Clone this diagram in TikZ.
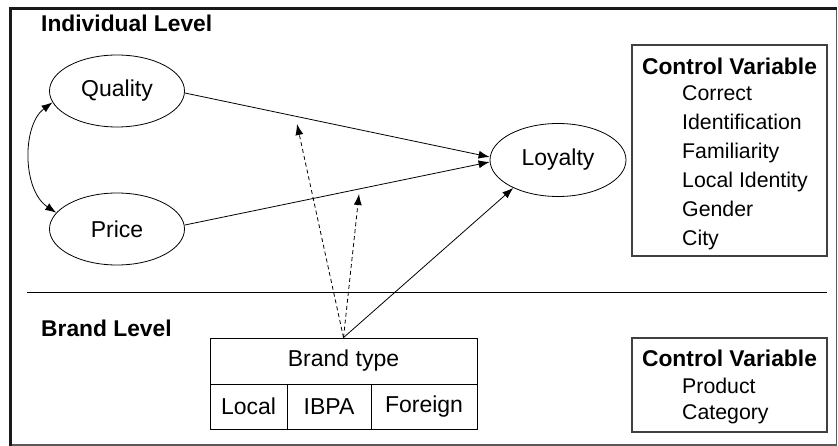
\documentclass[tikz,border=0pt]{standalone}
\usepackage{fontspec}
\setmainfont{Liberation Sans}
\usetikzlibrary{arrows.meta,shapes.geometric}
\begin{document}
\begin{tikzpicture}[x=1pt,y=-1pt,
  lbl/.style={font=\fontsize{23}{27}\selectfont},
  hdr/.style={font=\fontsize{22.8}{27}\selectfont\bfseries, anchor=base west, inner sep=0pt},
  item/.style={font=\fontsize{21.3}{25}\selectfont, anchor=base west, inner sep=0pt},
  construct/.style={draw, ellipse, line width=0.8pt, minimum width=135pt, minimum height=72pt, inner sep=0pt, lbl},
  cell/.style={draw, line width=0.8pt, minimum height=45pt, inner sep=0pt, lbl},
  effect/.style={line width=0.8pt, -{Latex[length=11pt,width=8pt]}},
  moderation/.style={effect, dash pattern=on 4pt off 3pt},
  ctrl/.style={draw=black!75, line width=1.2pt, inner sep=0pt}
]
\useasboundingbox (0,0) rectangle (838,446);

% outer frame: heavy left/top edges, light right/bottom edges
\draw[line width=1.5pt, black!65] (836.5,9) -- (836.5,445) -- (11,445);
\draw[line width=2.8pt, black!90] (10.7,446) -- (10.7,8.7) -- (837,8.7);

% level divider
\draw[line width=1pt] (27,293) -- (827,293);

% level titles
\node[hdr] (ind) at (41,32) {Individual Level};
\node[hdr] (brd) at (41,337) {Brand Level};

% constructs
\node[construct] (q) at (117,91) {Quality};
\node[construct] (p) at (117,229) {Price};
\node[construct, minimum width=136pt, minimum height=73pt] (l) at (558,160) {Loyalty};

% individual-level controls
\node[ctrl, minimum width=195pt, minimum height=211pt] (cv1) at (729.5,150.5) {};
\node[hdr, anchor=base] (cv1t) at (729.5,75) {Control Variable};
\node[item] (c1) at (682,101) {Correct};
\node[item] (c2) at (682,130) {Identification};
\node[item] (c3) at (682,159) {Familiarity};
\node[item] (c4) at (682,188) {Local Identity};
\node[item] (c5) at (682,217) {Gender};
\node[item] (c6) at (682,246) {City};

% brand-level controls
\node[ctrl, minimum width=195pt, minimum height=94pt] (cv2) at (729.5,385) {};
\node[hdr, anchor=base] (cv2t) at (729.5,366.7) {Control Variable};
\node[item] (d1) at (682,393) {Product};
\node[item] (d2) at (682,419) {Category};

% brand type table
\node[cell, minimum width=267pt, minimum height=46pt] (bt) at (343.5,361) {Brand type};
\node[cell, minimum width=77pt] (loc) at (248.5,406.5) {Local};
\node[cell, minimum width=84pt] (ibpa) at (329,406.5) {IBPA};
\node[cell, minimum width=106pt] (for) at (424,406.5) {Foreign};

% direct effects
\draw[effect] ([yshift=-2pt]q.east) -- ([yshift=3pt]l.west);
\draw[effect] ([yshift=4pt]p.east) -- ([yshift=-2pt]l.west);
\draw[effect] (bt.north) -- (l.212);

% moderating effects of brand type
\coordinate (m1) at (297,124);
\coordinate (m2) at (359,194);
\draw[moderation] (bt.north) -- (m1);
\draw[moderation] (bt.north) -- (m2);

% correlation between quality and price
\draw[line width=0.8pt, {Latex[length=11pt,width=8pt]}-{Latex[length=11pt,width=8pt]}]
  (q.190) .. controls (22,125) and (22,190) .. (p.165);
\end{tikzpicture}
\end{document}
